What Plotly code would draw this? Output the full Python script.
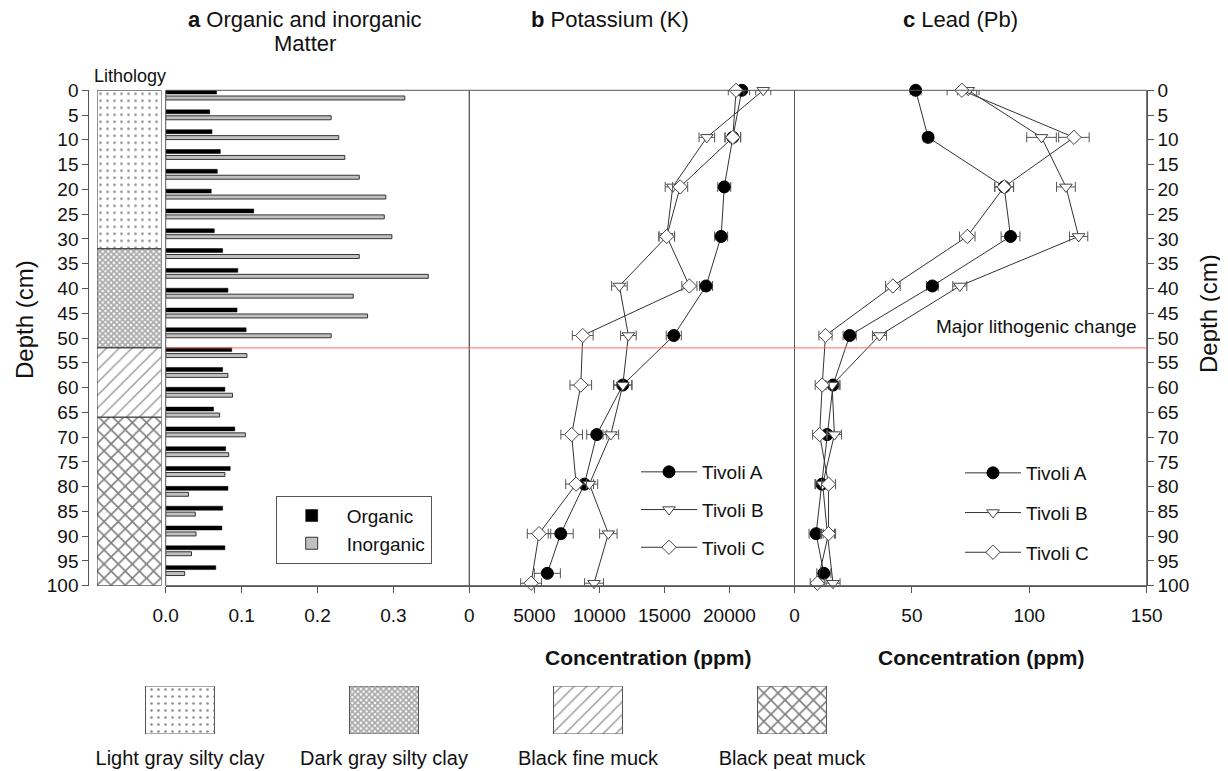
import plotly.graph_objects as go

# page body has an 8px margin; the figure is laid out in reference-pixel coordinates shifted by it
OFF = 8
W, H = 1228 - OFF, 771 - OFF
FONT = "Liberation Sans, Arial, sans-serif"
AX = "#555555"

# ---------------- data ----------------
bar_depths = [0, 4, 8, 12, 16, 20, 24, 28, 32, 36, 40, 44, 48, 52, 56, 60, 64, 68, 72, 76, 80, 84, 88, 92, 96]
organic = [0.067, 0.058, 0.061, 0.072, 0.068, 0.060, 0.116, 0.064, 0.075, 0.095, 0.082, 0.094, 0.106,
           0.087, 0.075, 0.078, 0.063, 0.091, 0.079, 0.085, 0.082, 0.075, 0.074, 0.078, 0.066]
inorganic = [0.315, 0.218, 0.228, 0.236, 0.255, 0.290, 0.288, 0.298, 0.255, 0.346, 0.247, 0.266, 0.218,
             0.107, 0.082, 0.088, 0.071, 0.105, 0.083, 0.078, 0.030, 0.039, 0.040, 0.034, 0.025]

litho_names = ["Light gray silty clay", "Dark gray silty clay", "Black fine muck", "Black peat muck"]
litho_top = [0, 32, 52, 66]
litho_bottom = [32, 52, 66, 100]
lithogenic_change_depth = 52

depth_A = [0, 9.5, 19.5, 29.5, 39.5, 49.5, 59.5, 69.5, 79.5, 89.5, 97.5]
depth_BC = [0, 9.5, 19.5, 29.5, 39.5, 49.5, 59.5, 69.5, 79.5, 89.5, 99.5]

K_A = [20950, 20260, 19600, 19360, 18200, 15720, 11800, 9800, 8850, 7030, 6000]
K_B = [22600, 18260, 15640, 15180, 11540, 12230, 11800, 10880, 9230, 10690, 9590]
K_C = [20510, 20260, 16210, 15180, 16920, 8720, 8570, 7870, 8210, 5360, 4750]
K_A_err = [600, 600, 500, 500, 500, 580, 700, 770, 700, 960, 1000]
K_B_err = [580, 600, 580, 600, 600, 600, 700, 600, 640, 670, 730]
K_C_err = [600, 600, 580, 600, 580, 800, 830, 830, 800, 900, 800]

Pb_A = [51.6, 56.9, 89.3, 92.0, 58.7, 23.5, 16.4, 13.9, 11.7, 9.2, 12.5]
Pb_B = [74.0, 105.2, 115.6, 121.0, 70.4, 36.2, 16.0, 17.0, 12.0, 14.0, 16.4]
Pb_C = [71.3, 119.0, 89.3, 73.6, 41.9, 13.2, 11.8, 10.7, 14.5, 14.5, 9.7]
Pb_A_err = [2.3, 2.0, 4.0, 4.0, 2.5, 2.8, 3.0, 3.0, 3.0, 3.0, 3.0]
Pb_B_err = [4.6, 6.3, 4.0, 3.9, 3.0, 3.0, 3.0, 3.0, 3.0, 3.0, 3.0]
Pb_C_err = [6.3, 6.5, 4.0, 3.3, 3.1, 2.8, 3.0, 3.0, 3.0, 3.0, 3.0]

site_names = ["Tivoli A", "Tivoli B", "Tivoli C"]

depth_ticks = list(range(0, 101, 5))
org_ticks = [0.0, 0.1, 0.2, 0.3, 0.4]
org_ticktext = ["0.0", "0.1", "0.2", "0.3", ""]
k_ticks = [0, 5000, 10000, 15000, 20000, 25000]
k_ticktext = ["0", "5000", "10000", "15000", "20000", ""]
pb_ticks = [0, 50, 100, 150]

# ---------------- styles ----------------
litho_style = {
    "Light gray silty clay": dict(shape=".", size=7, solidity=0.12, fgcolor="#222222"),
    "Dark gray silty clay": dict(shape="x", size=4, solidity=0.7, fgcolor="#555555"),
    "Black fine muck": dict(shape="/", size=9, solidity=0.14, fgcolor="#222222"),
    "Black peat muck": dict(shape="x", size=10, solidity=0.3, fgcolor="#000000"),
}
site_style = [
    dict(symbol="circle", size=12, color="black", line=dict(color="black", width=1)),
    dict(symbol="triangle-down", size=11, color="white", line=dict(color="#444444", width=1)),
    dict(symbol="diamond", size=11, color="white", line=dict(color="#444444", width=1)),
]


def px(p):
    return (p - OFF) / W


def py(p):
    return 1 - (p - OFF) / H


fig = go.Figure()

# lithology column
for name, top, bot in zip(litho_names, litho_top, litho_bottom):
    st = litho_style[name]
    fig.add_trace(go.Bar(
        x=[0.5], y=[bot - top], base=[top], width=[1.0], orientation="v",
        xaxis="x4", yaxis="y", showlegend=False, hoverinfo="skip",
        marker=dict(color="white", line=dict(color="#333333", width=1),
                    pattern=dict(bgcolor="white", **st)),
    ))

# panel a bars
fig.add_trace(go.Bar(
    y=[d + 0.35 for d in bar_depths], x=organic, orientation="h", width=0.8,
    name="Organic", xaxis="x", yaxis="y", legend="legend",
    marker=dict(color="black", line=dict(color="black", width=0.5)),
))
fig.add_trace(go.Bar(
    y=[d + 1.55 for d in bar_depths], x=inorganic, orientation="h", width=0.8,
    name="Inorganic", xaxis="x", yaxis="y", legend="legend",
    marker=dict(color="#c0c0c0", line=dict(color="#333333", width=1)),
))

# panel b & c lines
k_series = [(K_A, K_A_err, depth_A), (K_B, K_B_err, depth_BC), (K_C, K_C_err, depth_BC)]
pb_series = [(Pb_A, Pb_A_err, depth_A), (Pb_B, Pb_B_err, depth_BC), (Pb_C, Pb_C_err, depth_BC)]

for i, (vals, errs, deps) in enumerate(k_series):
    fig.add_trace(go.Scatter(
        x=vals, y=deps, mode="lines+markers", name=site_names[i],
        xaxis="x2", yaxis="y", legend="legend2", legendgroup="k" + str(i),
        line=dict(color="#333333", width=1), marker=site_style[i], cliponaxis=False,
        error_x=dict(type="data", array=errs, visible=True, color="#555555", thickness=1, width=5),
    ))
for i, (vals, errs, deps) in enumerate(pb_series):
    fig.add_trace(go.Scatter(
        x=vals, y=deps, mode="lines+markers", name=site_names[i],
        xaxis="x3", yaxis="y2", legend="legend3", legendgroup="pb" + str(i),
        line=dict(color="#333333", width=1), marker=site_style[i], cliponaxis=False,
        error_x=dict(type="data", array=errs, visible=True, color="#555555", thickness=1, width=5),
    ))

# lithology key at the bottom
fig.add_trace(go.Bar(
    x=list(range(len(litho_names))), y=[1] * len(litho_names), width=0.338,
    xaxis="x5", yaxis="y5", showlegend=False, hoverinfo="skip",
    marker=dict(color="white", line=dict(color="#555555", width=1),
                pattern=dict(shape=[litho_style[n]["shape"] for n in litho_names],
                             size=[litho_style[n]["size"] for n in litho_names],
                             solidity=[litho_style[n]["solidity"] for n in litho_names],
                             fgcolor=[litho_style[n]["fgcolor"] for n in litho_names],
                             bgcolor="white")),
))

tickfont = dict(family=FONT, size=19, color="#111111")
xcommon = dict(anchor="y", ticks="outside", ticklen=6, tickcolor=AX, showline=True, linecolor=AX,
               linewidth=1, showgrid=False, zeroline=False, tickfont=tickfont, ticklabelstandoff=6)
ycommon = dict(range=[100, 0], domain=[py(585.7), py(90.3)], tickvals=depth_ticks, ticks="outside",
               ticklen=6, tickcolor=AX, showline=True, linecolor=AX, linewidth=1, showgrid=False,
               zeroline=False, tickfont=tickfont)

legfont = dict(family=FONT, size=19, color="#111111")
fig.update_layout(
    width=W, height=H, margin=dict(l=0, r=0, t=0, b=0, autoexpand=False),
    paper_bgcolor="white", plot_bgcolor="white", barmode="overlay",
    font=dict(family=FONT, size=19, color="#111111"),
    xaxis=dict(domain=[px(165.7), px(469.3)], range=[0, 0.4], tickvals=org_ticks, ticktext=org_ticktext, **xcommon),
    xaxis2=dict(domain=[px(469.3), px(794.5)], range=[0, 25000], tickvals=k_ticks, ticktext=k_ticktext, **xcommon),
    xaxis3=dict(domain=[px(794.5), px(1146.7)], range=[0, 150], tickvals=pb_ticks, **xcommon),
    xaxis4=dict(domain=[px(97), px(161.5)], range=[0, 1], anchor="y", visible=False),
    xaxis5=dict(domain=[px(78), px(894)], range=[-0.5, 3.5], anchor="y5", tickvals=list(range(len(litho_names))),
                ticktext=litho_names, showline=False, showgrid=False, zeroline=False, ticks="",
                tickfont=dict(family=FONT, size=20, color="#111111"), ticklabelstandoff=10),
    yaxis=dict(anchor="free", position=px(88.3), side="left", **ycommon),
    yaxis2=dict(anchor="free", position=px(1146.7), side="right", overlaying="y", **ycommon),
    yaxis5=dict(domain=[py(734), py(686)], range=[0, 1], anchor="x5", visible=False),
    legend=dict(x=px(275.7), y=py(495.7), xanchor="left", yanchor="top", bgcolor="white",
                bordercolor=AX, borderwidth=1, itemwidth=60, font=legfont),
    legend2=dict(x=px(636), y=py(453), xanchor="left", yanchor="top", bgcolor="rgba(0,0,0,0)",
                 tracegroupgap=10, itemwidth=56, font=legfont),
    legend3=dict(x=px(960), y=py(454), xanchor="left", yanchor="top", bgcolor="rgba(0,0,0,0)",
                 tracegroupgap=12, itemwidth=56, font=legfont),
    showlegend=True,
)

# panel frames
for xr in ["x", "x2", "x3"]:
    fig.add_shape(type="rect", xref=xr + " domain", yref="y domain", x0=0, x1=1, y0=0, y1=1,
                  line=dict(color=AX, width=1), layer="above")
# lithogenic change line
fig.add_shape(type="line", xref="paper", yref="y", x0=px(165.7), x1=px(1146.7),
              y0=lithogenic_change_depth, y1=lithogenic_change_depth,
              line=dict(color="#ff6b6b", width=1), layer="above")

ann = [
    dict(text="<b>a</b> Organic and inorganic", x=px(304.5), y=py(19), size=22),
    dict(text="Matter", x=px(304.5), y=py(44), size=22),
    dict(text="<b>b</b> Potassium (K)", x=px(610), y=py(19), size=22),
    dict(text="<b>c</b> Lead (Pb)", x=px(960), y=py(19), size=22),
    dict(text="Lithology", x=px(130), y=py(76), size=18),
    dict(text="<b>Concentration (ppm)</b>", x=px(647.5), y=py(657), size=21),
    dict(text="<b>Concentration (ppm)</b>", x=px(980.5), y=py(657), size=21),
]
for a in ann:
    fig.add_annotation(text=a["text"], x=a["x"], y=a["y"], xref="paper", yref="paper",
                       xanchor="center", yanchor="middle", showarrow=False,
                       font=dict(family=FONT, size=a["size"], color="#111111"))
fig.add_annotation(text="Major lithogenic change", x=px(1139), y=py(326), xref="paper", yref="paper",
                   xanchor="right", yanchor="middle", showarrow=False,
                   font=dict(family=FONT, size=19, color="#111111"))
for xc, yc in [(24, 320), (1208, 314)]:
    fig.add_annotation(text="Depth (cm)", x=px(xc), y=py(yc), xref="paper", yref="paper",
                       xanchor="center", yanchor="middle", showarrow=False, textangle=-90,
                       font=dict(family=FONT, size=24, color="#111111"))

fig.write_html("out.html")
